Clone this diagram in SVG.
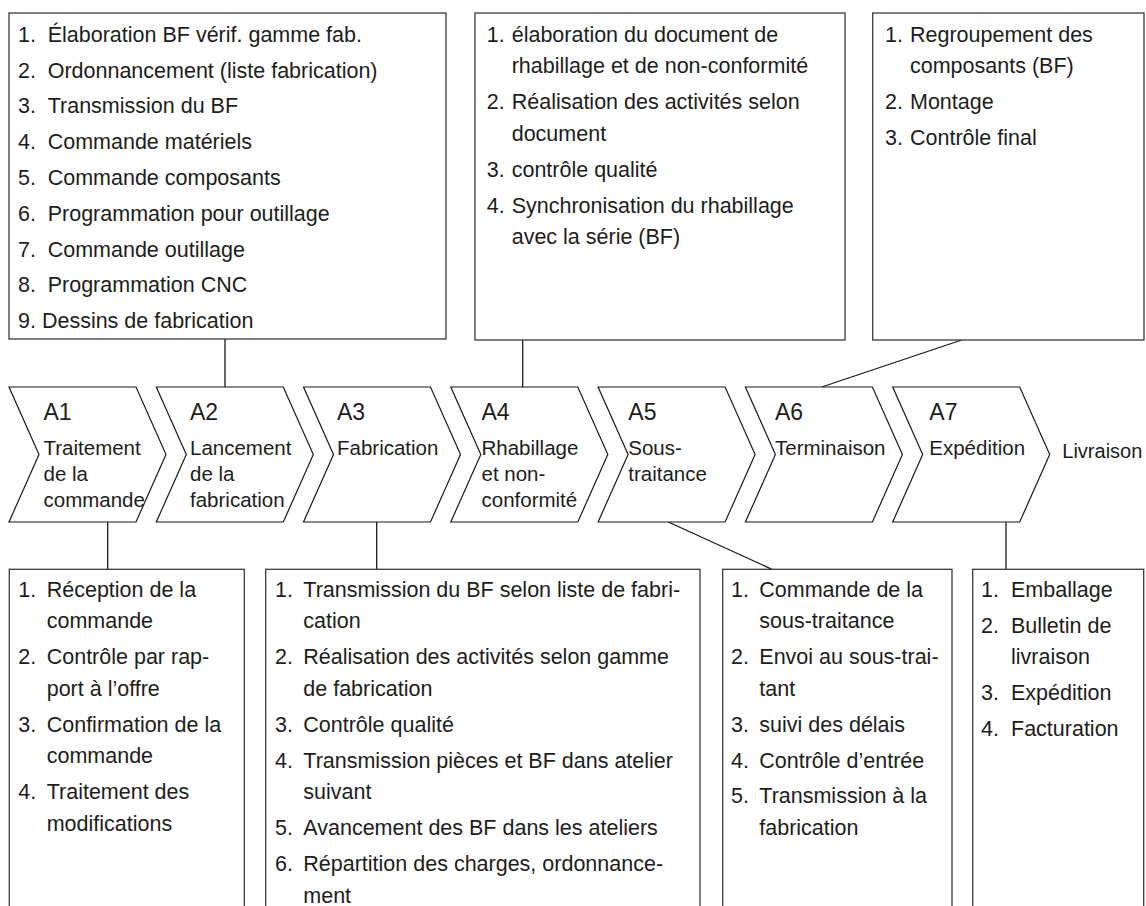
<svg xmlns="http://www.w3.org/2000/svg" width="1146" height="906" viewBox="0 0 1146 906">
  <style>
    .bg { fill: #ffffff; }
    .box { fill: #ffffff; stroke: #3a3a3a; stroke-width: 1.3; }
    .chev { fill: #ffffff; stroke: #1a1a1a; stroke-width: 1.2; stroke-linejoin: miter; }
    .conn { stroke: #1a1a1a; stroke-width: 1.3; fill: none; }
    .list { font-family: "Liberation Sans", Arial, sans-serif; font-size: 21.5px; fill: #1d1d1b; }
    .code { font-family: "Liberation Sans", Arial, sans-serif; font-size: 23px; fill: #1d1d1b; }
    .lbl { font-family: "Liberation Sans", Arial, sans-serif; font-size: 20.5px; fill: #1d1d1b; }
    .out { font-family: "Liberation Sans", Arial, sans-serif; font-size: 20px; fill: #1d1d1b; }
  </style>
  <defs>
    <!-- process step arrow, origin at its top-left corner -->
    <path id="chevron" d="M0,387 L127,387 L157,454.5 L127,522 L0,522 L30,454.5 Z"/>
  </defs>

  <rect class="bg" x="0" y="0" width="1146" height="906"/>

  <!-- links between the steps and their task lists -->
  <g id="connectors">
    <line class="conn" x1="225" y1="339" x2="225" y2="387"/>
    <line class="conn" x1="522.7" y1="340" x2="522.7" y2="387"/>
    <line class="conn" x1="961.7" y1="340" x2="821.7" y2="387"/>
    <line class="conn" x1="107.7" y1="522" x2="107.7" y2="569.3"/>
    <line class="conn" x1="376.7" y1="522" x2="376.7" y2="569.3"/>
    <line class="conn" x1="668.3" y1="522" x2="772" y2="569.3"/>
    <line class="conn" x1="1006" y1="522" x2="1006" y2="569.3"/>
  </g>

  <!-- task lists above the process chain -->
  <g id="tasks-a2">
    <rect class="box" x="9" y="13" width="437" height="326"/>
    <text class="list">
      <tspan x="18" y="41.7">1.</tspan><tspan x="47.7" y="41.7">Élaboration BF vérif. gamme fab.</tspan>
      <tspan x="18" y="77.5">2.</tspan><tspan x="47.7" y="77.5">Ordonnancement (liste fabrication)</tspan>
      <tspan x="18" y="113.3">3.</tspan><tspan x="47.7" y="113.3">Transmission du BF</tspan>
      <tspan x="18" y="149.1">4.</tspan><tspan x="47.7" y="149.1">Commande matériels</tspan>
      <tspan x="18" y="184.9">5.</tspan><tspan x="47.7" y="184.9">Commande composants</tspan>
      <tspan x="18" y="220.7">6.</tspan><tspan x="47.7" y="220.7">Programmation pour outillage</tspan>
      <tspan x="18" y="256.5">7.</tspan><tspan x="47.7" y="256.5">Commande outillage</tspan>
      <tspan x="18" y="292.3">8.</tspan><tspan x="47.7" y="292.3">Programmation CNC</tspan>
      <tspan x="18" y="328.1">9. Dessins de fabrication</tspan>
    </text>
  </g>

  <g id="tasks-a4">
    <rect class="box" x="475" y="13" width="370" height="327"/>
    <text class="list">
      <tspan x="486.7" y="41.7">1.</tspan><tspan x="511.7" y="41.7">élaboration du document de</tspan>
      <tspan x="511.7" y="73.4">rhabillage et de non-conformité</tspan>
      <tspan x="486.7" y="109.2">2.</tspan><tspan x="511.7" y="109.2">Réalisation des activités selon</tspan>
      <tspan x="511.7" y="140.9">document</tspan>
      <tspan x="486.7" y="176.7">3.</tspan><tspan x="511.7" y="176.7">contrôle qualité</tspan>
      <tspan x="486.7" y="212.5">4.</tspan><tspan x="511.7" y="212.5">Synchronisation du rhabillage</tspan>
      <tspan x="511.7" y="244.2">avec la série (BF)</tspan>
    </text>
  </g>

  <g id="tasks-a6">
    <rect class="box" x="872.7" y="13" width="271.3" height="327"/>
    <text class="list">
      <tspan x="885" y="41.7">1.</tspan><tspan x="910" y="41.7">Regroupement des</tspan>
      <tspan x="910" y="73.4">composants (BF)</tspan>
      <tspan x="885" y="109.2">2.</tspan><tspan x="910" y="109.2">Montage</tspan>
      <tspan x="885" y="145">3.</tspan><tspan x="910" y="145">Contrôle final</tspan>
    </text>
  </g>

  <!-- process chain -->
  <g id="step-a1">
    <use href="#chevron" class="chev" x="9"/>
    <text class="code" x="43.5" y="420">A1</text>
    <text class="lbl"><tspan x="43.5" y="454.5">Traitement</tspan><tspan x="43.5" y="480.7">de la</tspan><tspan x="43.5" y="506.8">commande</tspan></text>
  </g>
  <g id="step-a2">
    <use href="#chevron" class="chev" x="156.3"/>
    <text class="code" x="190" y="420">A2</text>
    <text class="lbl"><tspan x="190" y="454.5">Lancement</tspan><tspan x="190" y="480.7">de la</tspan><tspan x="190" y="506.8">fabrication</tspan></text>
  </g>
  <g id="step-a3">
    <use href="#chevron" class="chev" x="303.5"/>
    <text class="code" x="337" y="420">A3</text>
    <text class="lbl" x="337" y="454.5">Fabrication</text>
  </g>
  <g id="step-a4">
    <use href="#chevron" class="chev" x="450.8"/>
    <text class="code" x="481.5" y="420">A4</text>
    <text class="lbl"><tspan x="481.5" y="454.5">Rhabillage</tspan><tspan x="481.5" y="480.7">et non-</tspan><tspan x="481.5" y="506.8">conformité</tspan></text>
  </g>
  <g id="step-a5">
    <use href="#chevron" class="chev" x="598.1"/>
    <text class="code" x="628.3" y="420">A5</text>
    <text class="lbl"><tspan x="628.3" y="454.5">Sous-</tspan><tspan x="628.3" y="480.7">traitance</tspan></text>
  </g>
  <g id="step-a6">
    <use href="#chevron" class="chev" x="745.4"/>
    <text class="code" x="775" y="420">A6</text>
    <text class="lbl" x="775" y="454.5">Terminaison</text>
  </g>
  <g id="step-a7">
    <use href="#chevron" class="chev" x="892.7"/>
    <text class="code" x="929.3" y="420">A7</text>
    <text class="lbl" x="929.3" y="454.5">Expédition</text>
  </g>
  <g id="output">
    <text class="out" x="1062.3" y="458.3">Livraison</text>
  </g>

  <!-- task lists below the process chain -->
  <g id="tasks-a1">
    <rect class="box" x="9.3" y="569.3" width="235" height="345"/>
    <text class="list">
      <tspan x="18.3" y="596.7">1.</tspan><tspan x="46.7" y="596.7">Réception de la</tspan>
      <tspan x="46.7" y="628.4">commande</tspan>
      <tspan x="18.3" y="664.2">2.</tspan><tspan x="46.7" y="664.2">Contrôle par rap-</tspan>
      <tspan x="46.7" y="695.9">port à l’offre</tspan>
      <tspan x="18.3" y="731.7">3.</tspan><tspan x="46.7" y="731.7">Confirmation de la</tspan>
      <tspan x="46.7" y="763.4">commande</tspan>
      <tspan x="18.3" y="799.2">4.</tspan><tspan x="46.7" y="799.2">Traitement des</tspan>
      <tspan x="46.7" y="830.9">modifications</tspan>
    </text>
  </g>

  <g id="tasks-a3">
    <rect class="box" x="265.7" y="569.3" width="434.3" height="345"/>
    <text class="list">
      <tspan x="275" y="596.7">1.</tspan><tspan x="303.3" y="596.7">Transmission du BF selon liste de fabri-</tspan>
      <tspan x="303.3" y="628.4">cation</tspan>
      <tspan x="275" y="664.2">2.</tspan><tspan x="303.3" y="664.2">Réalisation des activités selon gamme</tspan>
      <tspan x="303.3" y="695.9">de fabrication</tspan>
      <tspan x="275" y="731.7">3.</tspan><tspan x="303.3" y="731.7">Contrôle qualité</tspan>
      <tspan x="275" y="767.5">4.</tspan><tspan x="303.3" y="767.5">Transmission pièces et BF dans atelier</tspan>
      <tspan x="303.3" y="799.2">suivant</tspan>
      <tspan x="275" y="835">5.</tspan><tspan x="303.3" y="835">Avancement des BF dans les ateliers</tspan>
      <tspan x="275" y="870.8">6.</tspan><tspan x="303.3" y="870.8">Répartition des charges, ordonnance-</tspan>
      <tspan x="303.3" y="902.5">ment</tspan>
    </text>
  </g>

  <g id="tasks-a5">
    <rect class="box" x="722.7" y="569.3" width="229.3" height="345"/>
    <text class="list">
      <tspan x="731" y="596.7">1.</tspan><tspan x="759.3" y="596.7">Commande de la</tspan>
      <tspan x="759.3" y="628.4">sous-traitance</tspan>
      <tspan x="731" y="664.2">2.</tspan><tspan x="759.3" y="664.2">Envoi au sous-trai-</tspan>
      <tspan x="759.3" y="695.9">tant</tspan>
      <tspan x="731" y="731.7">3.</tspan><tspan x="759.3" y="731.7">suivi des délais</tspan>
      <tspan x="731" y="767.5">4.</tspan><tspan x="759.3" y="767.5">Contrôle d’entrée</tspan>
      <tspan x="731" y="803.3">5.</tspan><tspan x="759.3" y="803.3">Transmission à la</tspan>
      <tspan x="759.3" y="835">fabrication</tspan>
    </text>
  </g>

  <g id="tasks-a7">
    <rect class="box" x="972.7" y="569.3" width="171" height="345"/>
    <text class="list">
      <tspan x="981" y="596.7">1.</tspan><tspan x="1011" y="596.7">Emballage</tspan>
      <tspan x="981" y="632.5">2.</tspan><tspan x="1011" y="632.5">Bulletin de</tspan>
      <tspan x="1011" y="664.2">livraison</tspan>
      <tspan x="981" y="700">3.</tspan><tspan x="1011" y="700">Expédition</tspan>
      <tspan x="981" y="735.8">4.</tspan><tspan x="1011" y="735.8">Facturation</tspan>
    </text>
  </g>
</svg>
